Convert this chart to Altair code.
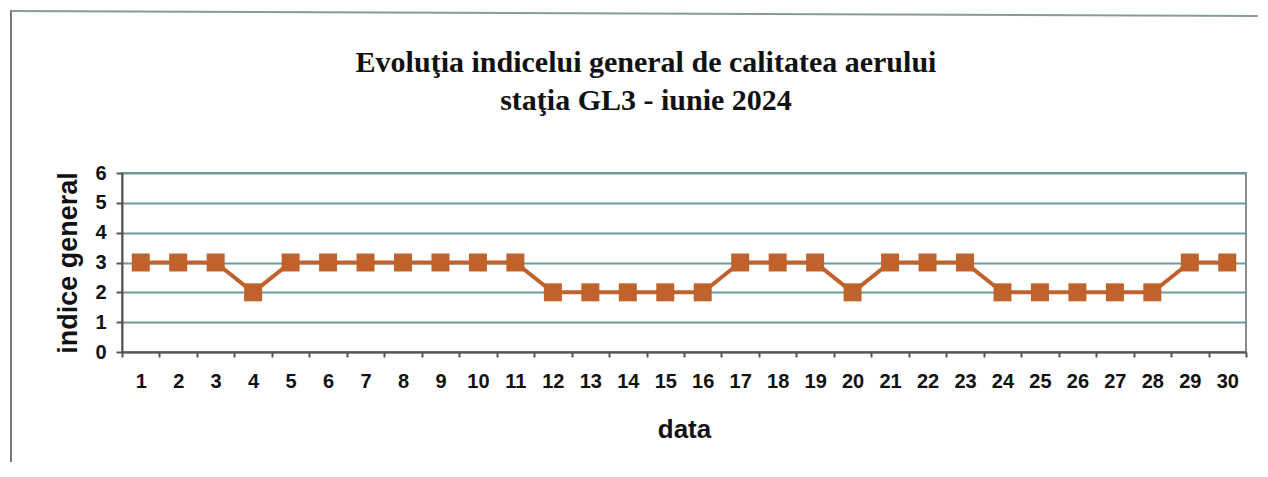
import altair as alt
import pandas as pd

# ---- data ----
days = list(range(1, 31))
indice = [3, 3, 3, 2, 3, 3, 3, 3, 3, 3, 3, 2, 2, 2, 2, 2, 3, 3, 3, 2,
          3, 3, 3, 2, 2, 2, 2, 2, 3, 3]
title_line1 = "Evoluţia indicelui general de calitatea aerului"
title_line2 = "staţia GL3 - iunie 2024"
x_title = "data"
y_title = "indice general"
y_ticks = [0, 1, 2, 3, 4, 5, 6]

df = pd.DataFrame({"zi": days, "indice": indice})

W, H = 1124, 179
band = W / len(days)
edge_vals = [i + 0.5 for i in range(0, len(days) + 1)]

SANS = "Liberation Sans"
SERIF = "Liberation Serif"
ORANGE = "#c0622b"
GRID = "#6f9a9a"
AXIS = "#555555"

x_enc = alt.X(
    "zi:Q",
    scale=alt.Scale(domain=[0.5, 30.5], nice=False, zero=False),
    axis=alt.Axis(
        values=edge_vals,
        labelExpr="datum.value > 30 ? '' : format(datum.value + 0.5, 'd')",
        labelOffset=band / 2,
        labelOverlap=False,
        labelFlush=False,
        labelBound=False,
        labelFont=SANS,
        labelFontWeight="bold",
        labelFontSize=20,
        labelColor="#111",
        labelPadding=14,
        labelBaseline="top",
        tickSize=5,
        tickColor=AXIS,
        tickWidth=2,
        domainColor=AXIS,
        domainWidth=2,
        grid=False,
        title=x_title,
        titleFont=SANS,
        titleFontWeight="bold",
        titleFontSize=26,
        titleColor="#111",
        titleX=W / 2,
        titleY=85,
        titleAlign="center",
        titleBaseline="alphabetic",
    ),
)

y_enc = alt.Y(
    "indice:Q",
    scale=alt.Scale(domain=[0, 6], nice=False),
    axis=alt.Axis(
        values=y_ticks,
        format="d",
        labelFont=SANS,
        labelFontWeight="bold",
        labelFontSize=20,
        labelColor="#111",
        labelPadding=10,
        tickSize=6,
        tickColor=AXIS,
        tickWidth=2,
        domainColor=AXIS,
        domainWidth=2,
        grid=True,
        gridColor=GRID,
        gridWidth=2,
        title=y_title,
        titleFont=SANS,
        titleFontWeight="bold",
        titleFontSize=27,
        titleColor="#111",
        titleAngle=-90,
        titleX=-46,
        titleY=H / 2,
        titleAlign="center",
        titleBaseline="alphabetic",
    ),
)

base = alt.Chart(df)
line = base.mark_line(color=ORANGE, strokeWidth=4).encode(x=x_enc, y=y_enc)
pts = base.mark_square(size=324, color=ORANGE, opacity=1).encode(x=x_enc, y=y_enc)

t1 = alt.Chart(pd.DataFrame({"t": [title_line1]})).mark_text(
    font=SERIF, fontSize=30, fontWeight="bold", color="#111",
    align="center", baseline="alphabetic"
).encode(text="t:N", x=alt.value(524), y=alt.value(72 - 173))

t2 = alt.Chart(pd.DataFrame({"t": [title_line2]})).mark_text(
    font=SERIF, fontSize=30, fontWeight="bold", color="#111",
    align="center", baseline="alphabetic"
).encode(text="t:N", x=alt.value(524), y=alt.value(110 - 173))

frame_src = pd.DataFrame({"f": [0]})
frame_left = alt.Chart(frame_src).mark_rule(color="#7a7a7a", strokeWidth=2).encode(
    x=alt.value(-111), y=alt.value(-163), y2=alt.value(304)
)
frame_top = alt.Chart(frame_src).mark_rule(color="#8a9a9a", strokeWidth=2).encode(
    x=alt.value(-111), x2=alt.value(1136), y=alt.value(-162), y2=alt.value(-157)
)

chart = (
    alt.layer(frame_left, frame_top, line, pts, t1, t2)
    .properties(
        width=W,
        height=H,
        autosize="none",
        padding={"left": 114, "top": 165, "right": 14, "bottom": 110},
        background="white",
    )
    .configure_view(stroke="#666666", strokeWidth=1.5)
)

chart.save("out.html", embed_options={"renderer": "svg", "actions": False})
